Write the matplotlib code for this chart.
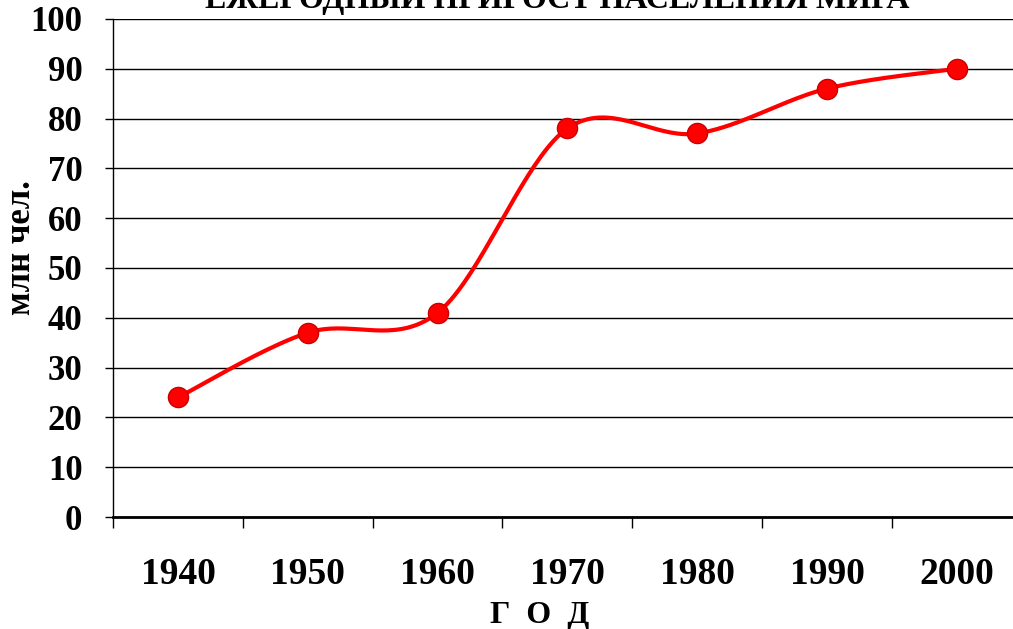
import numpy as np
import matplotlib
matplotlib.use("Agg")
import matplotlib.pyplot as plt

# data
years = ["1940", "1950", "1960", "1970", "1980", "1990", "2000"]
growth = [24, 37, 41, 78, 77, 86, 90]
y_ticks = [0, 10, 20, 30, 40, 50, 60, 70, 80, 90, 100]

title = "ЕЖЕГОДНЫЙ ПРИРОСТ НАСЕЛЕНИЯ МИРА"
x_title = "Г  О  Д"
y_title = "млн чел."

plt.rcParams['font.family'] = ['Liberation Serif', 'DejaVu Serif']
plt.rcParams['font.weight'] = 'bold'


def smooth_curve(xs, ys, n=40):
    # Catmull-Rom style bezier smoothing, like the spreadsheet "smoothed line"
    xs = np.asarray(xs, float)
    ys = np.asarray(ys, float)
    px = np.concatenate([[xs[0]], xs, [xs[-1]]])
    py = np.concatenate([[ys[0]], ys, [ys[-1]]])
    out_x, out_y = [], []
    t = np.linspace(0, 1, n)
    for i in range(1, len(px) - 2):
        x0, x1, x2, x3 = px[i - 1], px[i], px[i + 1], px[i + 2]
        y0, y1, y2, y3 = py[i - 1], py[i], py[i + 1], py[i + 2]
        c1x, c1y = x1 + (x2 - x0) / 6, y1 + (y2 - y0) / 6
        c2x, c2y = x2 - (x3 - x1) / 6, y2 - (y3 - y1) / 6
        bx = (1 - t)**3 * x1 + 3 * (1 - t)**2 * t * c1x + 3 * (1 - t) * t**2 * c2x + t**3 * x2
        by = (1 - t)**3 * y1 + 3 * (1 - t)**2 * t * c1y + 3 * (1 - t) * t**2 * c2y + t**3 * y2
        out_x.extend(bx)
        out_y.extend(by)
    return np.array(out_x), np.array(out_y)


fig = plt.figure(figsize=(10.13, 6.29), dpi=100)
ax = fig.add_axes([0.1116, 0.178, 0.897, 0.792])

xpos = np.arange(len(years))
sx, sy = smooth_curve(xpos, growth)
ax.plot(sx, sy, color='#ff0000', linewidth=3, zorder=3, solid_capstyle='round')
ax.plot(xpos, growth, 'o', color='#ff0000', markersize=14.5,
        markeredgecolor='#cc0000', markeredgewidth=1, zorder=4)

ax.set_xlim(-0.5, len(years) - 0.5)
ax.set_ylim(0, 100)

# y axis
ax.set_yticks(y_ticks)
ax.set_yticklabels([str(v) for v in y_ticks], fontsize=25, fontweight='bold')
ax.tick_params(axis='y', direction='out', length=6, width=1, pad=16)
ax.yaxis.grid(True, color='black', linewidth=1)
ax.set_axisbelow(True)

# x axis: ticks at category boundaries, labels at centres
ax.set_xticks(np.arange(-0.5, len(years) + 0.5, 1.0))
ax.set_xticklabels([])
ax.tick_params(axis='x', which='major', direction='out', length=8, width=1)
ax.set_xticks(xpos, minor=True)
ax.set_xticklabels(years, minor=True, fontsize=27, fontweight='bold')
ax.tick_params(axis='x', which='minor', length=0, pad=29)

for side in ['top', 'right']:
    ax.spines[side].set_visible(False)
ax.spines['left'].set_linewidth(1)
ax.spines['bottom'].set_linewidth(2)

fig.text(22 / 1013, 1 - 248 / 629, y_title, rotation=90, ha='center',
         va='center', fontsize=25, fontweight='bold')
fig.text(0.533, 0.009, x_title, ha='center', va='baseline', fontsize=23,
         fontweight='bold')
fig.text(0.55, 0.987, title, ha='center', va='baseline', fontsize=23,
         fontweight='bold')

fig.savefig('out.png', dpi=100)
